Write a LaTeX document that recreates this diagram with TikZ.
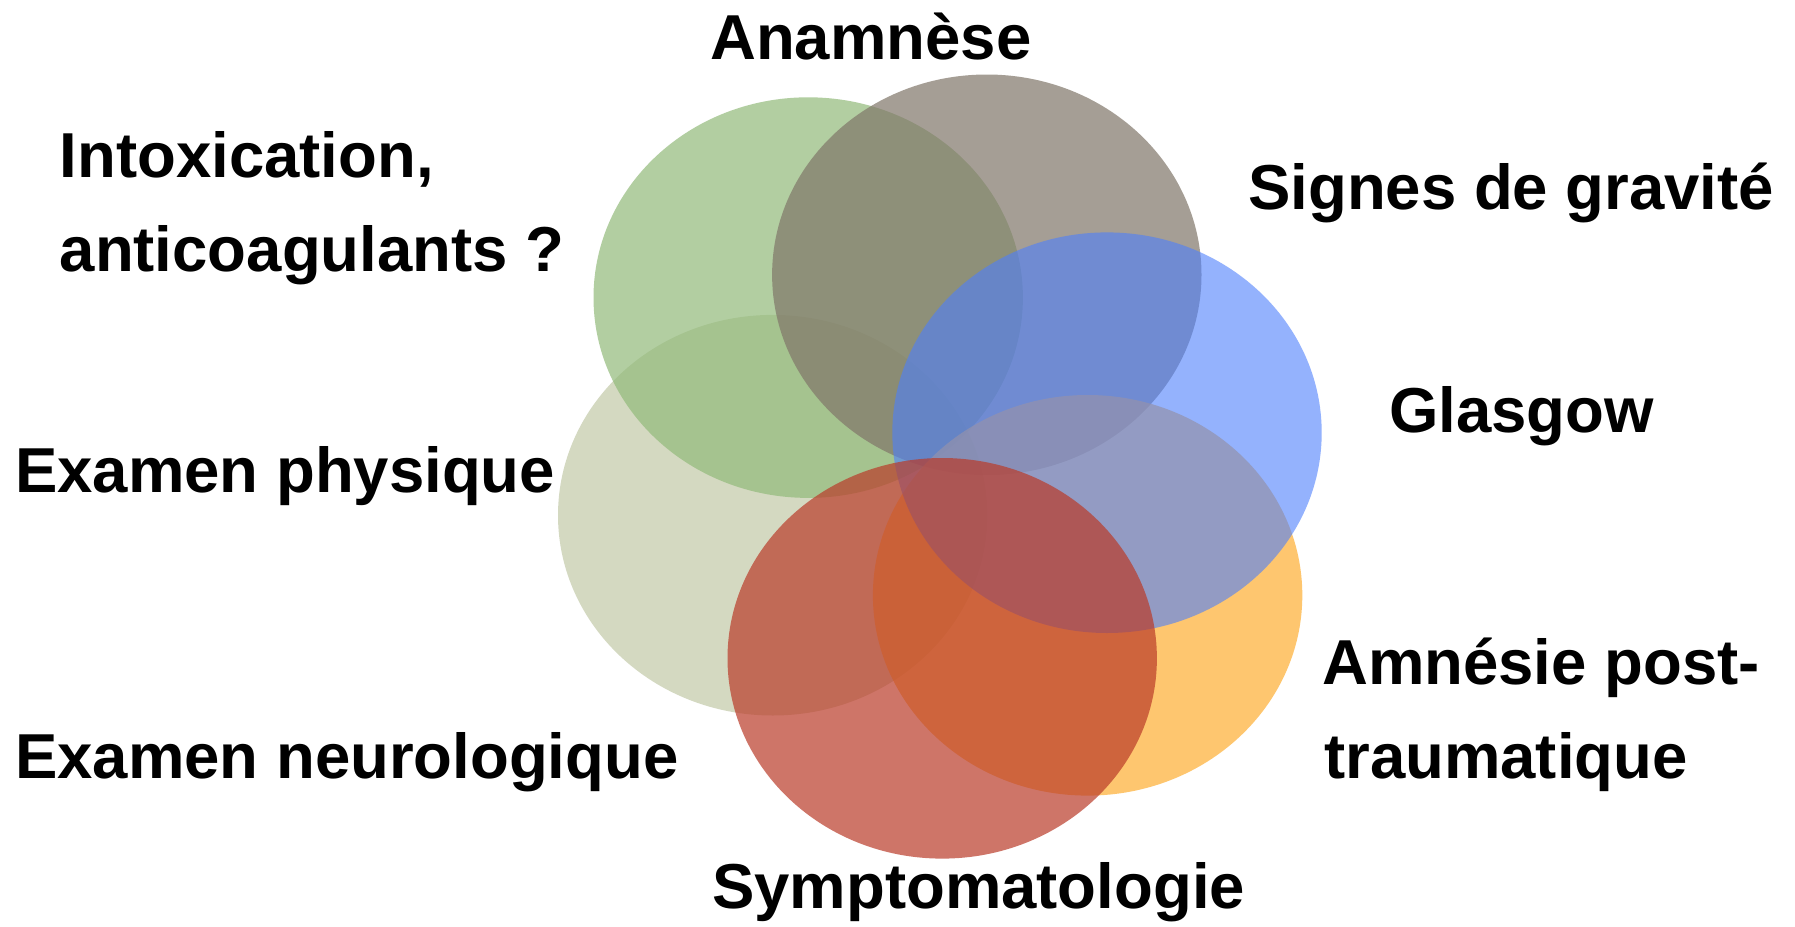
\documentclass[tikz,border=0pt]{standalone}
\usepackage{fontspec}
\setmainfont{Liberation Sans}
\definecolor{cGreen}{RGB}{146,186,122}
\definecolor{cBrown}{RGB}{128,118,105}
\definecolor{cBlue}{RGB}{77,127,252}
\definecolor{cOrange}{RGB}{254,175,51}
\definecolor{cRed}{RGB}{186,59,41}
\definecolor{cKhaki}{RGB}{194,201,168}
\tikzset{
  blob/.style={fill=#1, fill opacity=0.7, draw=none},
  lbl/.style={anchor=base west, inner sep=0pt, font=\fontsize{63.5}{95}\selectfont\bfseries}
}
\begin{document}
\begin{tikzpicture}[x=1pt,y=-1pt]
\useasboundingbox (0,0) rectangle (1795,926);
\fill[white] (0,0) rectangle (1795,926);
\def\rx{214.7pt}
\def\ry{200.3pt}
\path[blob=cKhaki]  (772.7,515.2) ellipse [x radius=\rx, y radius=\ry];
\path[blob=cGreen]  (808.2,297.6) ellipse [x radius=\rx, y radius=\ry];
\path[blob=cBrown]  (986.8,274.8) ellipse [x radius=\rx, y radius=\ry];
\path[blob=cOrange] (1087.6,595.3) ellipse [x radius=\rx, y radius=\ry];
\path[blob=cBlue, fill opacity=0.6] (1107,432.7) ellipse [x radius=\rx, y radius=\ry];
\path[blob=cRed]    (942.2,658.3) ellipse [x radius=\rx, y radius=\ry];

\node[lbl] (anam) at (710,59.5) {Anamnèse};
\node[lbl] (intox1) at (59.5,177.4) {Intoxication,};
\node[lbl] (intox2) at (59.5,271) {anticoagulants ?};
\node[lbl] (signes) at (1248,209.5) {Signes de gravité};
\node[lbl] (glasgow) at (1389,432.7) {Glasgow};
\node[lbl] (physique) at (15,492) {Examen physique};
\node[lbl] (amn1) at (1322,684.6) {Amnésie post-};
\node[lbl] (amn2) at (1324,778.5) {traumatique};
\node[lbl] (neuro) at (15,778.5) {Examen neurologique};
\node[lbl] (sympt) at (712,908) {Symptomatologie};
\end{tikzpicture}
\end{document}
